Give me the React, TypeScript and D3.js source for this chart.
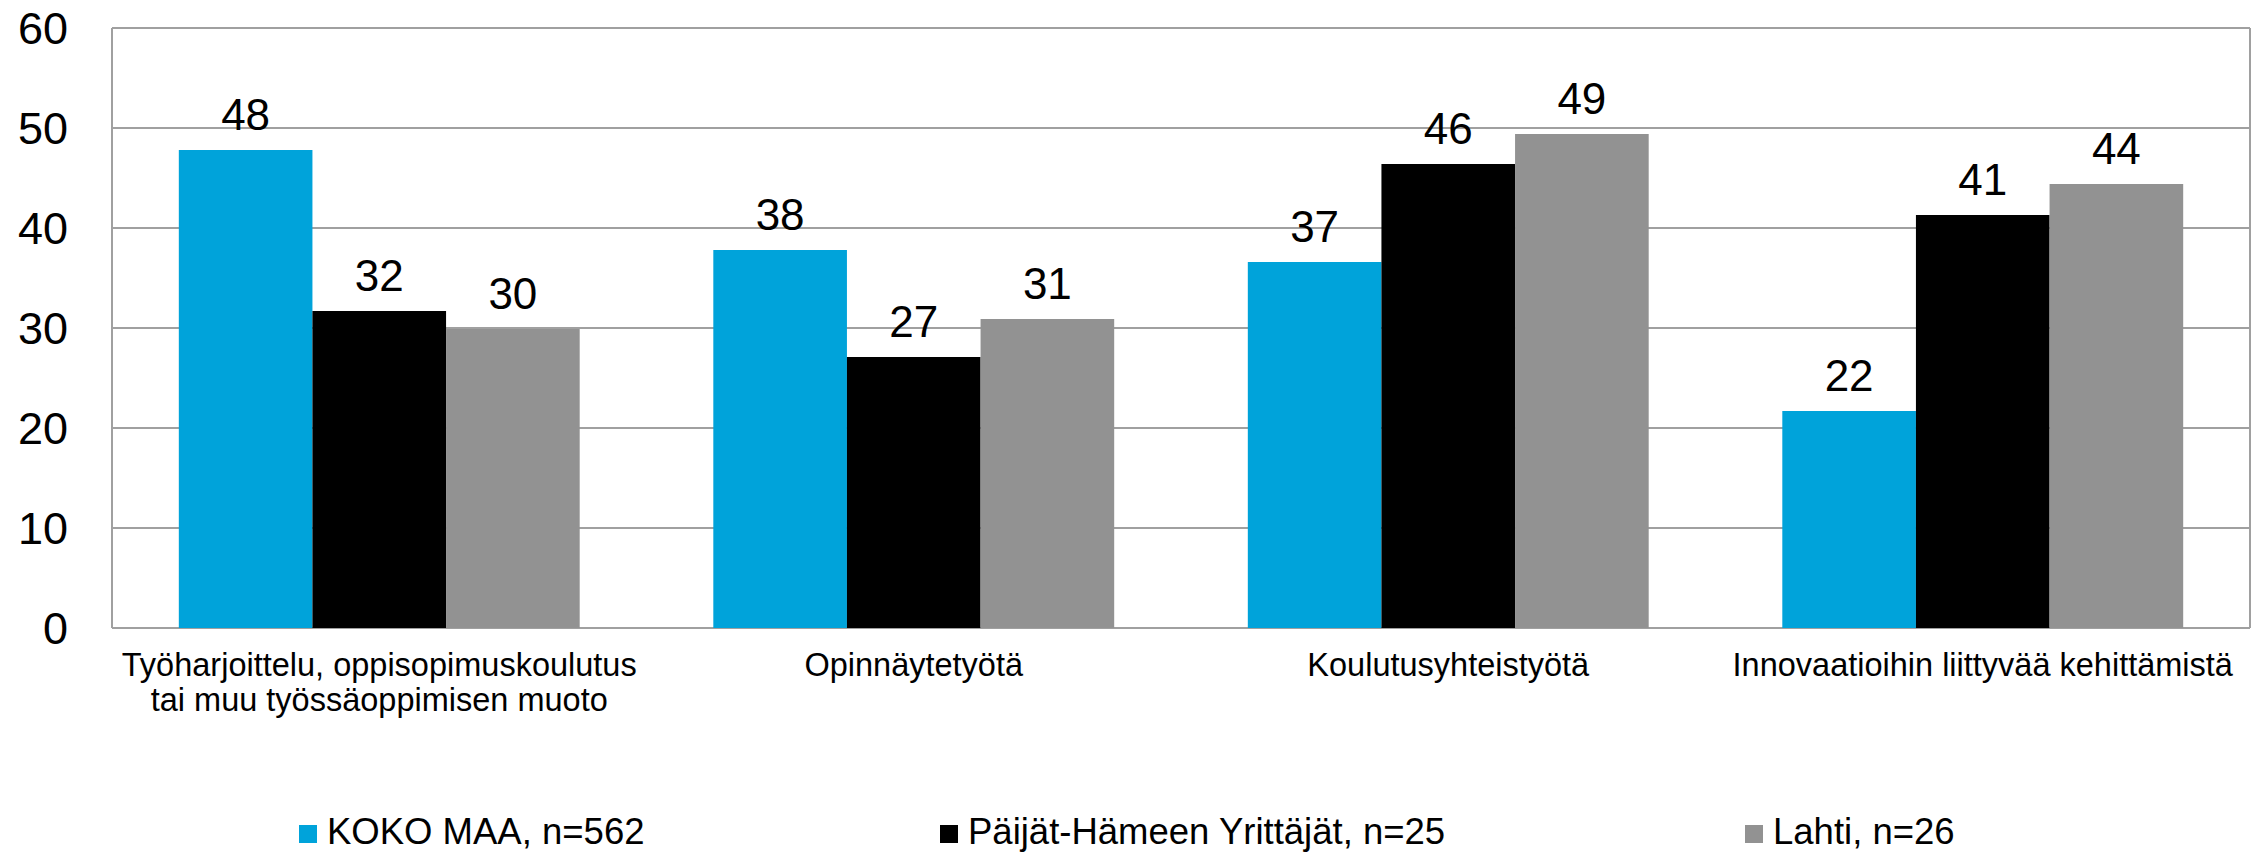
import React, { useEffect, useRef } from 'react';
import * as d3 from 'd3';

// categories (first one wraps onto two lines)
const categories = [
  ['Työharjoittelu, oppisopimuskoulutus', 'tai muu työssäoppimisen muoto'],
  ['Opinnäytetyötä'],
  ['Koulutusyhteistyötä'],
  ['Innovaatioihin liittyvää kehittämistä'],
];
const seriesNames = ['KOKO MAA, n=562', 'Päijät-Hämeen Yrittäjät, n=25', 'Lahti, n=26'];
const kokoMaa = [47.8, 37.8, 36.6, 21.7];
const paijatHame = [31.7, 27.1, 46.4, 41.3];
const lahti = [29.9, 30.9, 49.4, 44.4];
const yTicks = [0, 10, 20, 30, 40, 50, 60];

const colors = ['#00a3da', '#000000', '#929292'];

export default function App() {
  const ref = useRef<SVGSVGElement>(null);

  useEffect(() => {
    const W = 2260, H = 852;
    const margin = { top: 28, right: 10, bottom: 224, left: 112 };
    const width = W - margin.left - margin.right;
    const height = H - margin.top - margin.bottom;
    const font = '"Liberation Sans", Arial, sans-serif';

    const svg = d3.select(ref.current);
    svg.selectAll('*').remove();
    const g = svg.append('g').attr('transform', 'translate(' + margin.left + ',' + margin.top + ')');

    const series = [kokoMaa, paijatHame, lahti];

    const x0 = d3.scaleBand<number>()
      .domain(d3.range(categories.length))
      .range([0, width])
      .paddingInner(0.25)
      .paddingOuter(0.125);
    const x1 = d3.scaleBand<number>()
      .domain(d3.range(series.length))
      .range([0, x0.bandwidth()]);
    const y = d3.scaleLinear().domain([0, 60]).range([height, 0]);

    // gridlines
    g.selectAll('line.grid')
      .data(yTicks)
      .enter()
      .append('line')
      .attr('x1', 0)
      .attr('x2', width)
      .attr('y1', d => y(d))
      .attr('y2', d => y(d))
      .attr('stroke', '#a0a0a0')
      .attr('stroke-width', 2);

    // left axis + right border
    [0, width].forEach(xx => {
      g.append('line')
        .attr('x1', xx).attr('x2', xx)
        .attr('y1', y(60)).attr('y2', y(0))
        .attr('stroke', '#a0a0a0')
        .attr('stroke-width', 2);
    });

    // y tick labels
    g.selectAll('text.ytick')
      .data(yTicks)
      .enter()
      .append('text')
      .attr('x', -44)
      .attr('y', d => y(d))
      .attr('dy', '0.36em')
      .attr('text-anchor', 'end')
      .style('font-family', font)
      .style('font-size', '45px')
      .text(d => d);

    // bars
    series.forEach((vals, si) => {
      const sg = g.append('g');
      sg.selectAll('rect')
        .data(vals)
        .enter()
        .append('rect')
        .attr('x', (d, i) => (x0(i) as number) + (x1(si) as number))
        .attr('y', d => y(d))
        .attr('width', x1.bandwidth())
        .attr('height', d => y(0) - y(d))
        .attr('fill', colors[si]);

      sg.selectAll('text')
        .data(vals)
        .enter()
        .append('text')
        .attr('x', (d, i) => (x0(i) as number) + (x1(si) as number) + x1.bandwidth() / 2)
        .attr('y', d => y(d) - 20)
        .attr('text-anchor', 'middle')
        .style('font-family', font)
        .style('font-size', '44px')
        .text(d => Math.round(d));
    });

    // category labels
    categories.forEach((lines, i) => {
      const t = g.append('text')
        .attr('x', (x0(i) as number) + x0.bandwidth() / 2)
        .attr('y', height + 48)
        .attr('text-anchor', 'middle')
        .style('font-family', font)
        .style('font-size', '32.5px');
      lines.forEach((l, li) => {
        t.append('tspan')
          .attr('x', (x0(i) as number) + x0.bandwidth() / 2)
          .attr('dy', li === 0 ? 0 : 35)
          .text(l);
      });
    });

    // legend
    const legendX = [299, 940, 1745];
    const legend = svg.append('g').attr('class', 'legend');
    seriesNames.forEach((name, i) => {
      legend.append('rect')
        .attr('x', legendX[i])
        .attr('y', 825)
        .attr('width', 18)
        .attr('height', 18)
        .attr('fill', colors[i]);
      legend.append('text')
        .attr('x', legendX[i] + 28)
        .attr('y', 844)
        .style('font-family', font)
        .style('font-size', '36.5px')
        .text(name);
    });
  }, []);

  return (
    <svg
      ref={ref}
      width={2260}
      height={852}
      style={{ position: 'absolute', left: 0, top: 0, background: '#fff' }}
    />
  );
}
